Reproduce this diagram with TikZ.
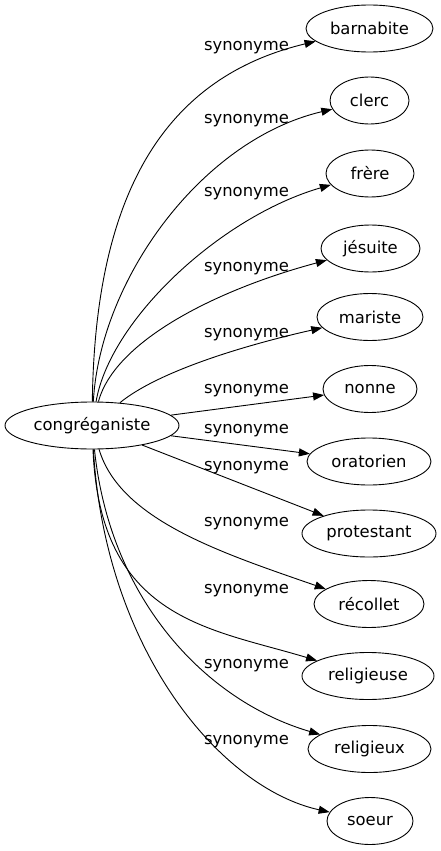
\documentclass[tikz,border=0pt]{standalone}
\usepackage{fontspec}
\setmainfont{DejaVu Sans}
\usetikzlibrary{shapes.geometric, arrows.meta}

\begin{document}
\begin{tikzpicture}[
    x=1pt, y=-1pt,
    word/.style={draw, ellipse, line width=0.9pt, minimum height=47pt,
        inner sep=0pt, text=black, font=\fontsize{16.4}{19}\selectfont},
    rel/.style={inner sep=0pt, text=black,
        font=\fontsize{16.4}{19}\selectfont},
    link/.style={line width=0.9pt, -{Triangle[length=11pt, width=8pt]}}
]
    \useasboundingbox (0,0) rectangle (441,851);

    % source
    \node[word, minimum width=174pt] (cong) at (92,425.5) {congréganiste};

    % targets
    \node[word, minimum width=127pt] (barn) at (369.5,28.5) {barnabite};
    \node[word, minimum width=79pt] (clerc) at (369.5,100.5) {clerc};
    \node[word, minimum width=88pt] (frere) at (370,173.5) {frère};
    \node[word, minimum width=99pt] (jesu) at (370.5,248.5) {jésuite};
    \node[word, minimum width=106pt] (mari) at (370,317) {mariste};
    \node[word, minimum width=94pt] (nonne) at (370,389) {nonne};
    \node[word, minimum width=124pt] (orat) at (369,461.5) {oratorien};
    \node[word, minimum width=134pt] (prot) at (369,533.5) {protestant};
    \node[word, minimum width=110pt] (reco) at (369,604) {récollet};
    \node[word, minimum width=132pt] (relse) at (368,676) {religieuse};
    \node[word, minimum width=123pt] (relx) at (369.5,749) {religieux};
    \node[word, minimum width=86pt] (soeur) at (370,821) {soeur};

    % labels
    \node[rel] (l1) at (246.5,47.5) {synonyme};
    \node[rel] (l2) at (246.5,120.5) {synonyme};
    \node[rel] (l3) at (246.5,194) {synonyme};
    \node[rel] (l4) at (246.5,269) {synonyme};
    \node[rel] (l5) at (246.5,335) {synonyme};
    \node[rel] (l6) at (246.5,391) {synonyme};
    \node[rel] (l7) at (246.5,431) {synonyme};
    \node[rel] (l8) at (246.5,468) {synonyme};
    \node[rel] (l9) at (246.5,524) {synonyme};
    \node[rel] (l10) at (246.5,591) {synonyme};
    \node[rel] (l11) at (246.5,666) {synonyme};
    \node[rel] (l12) at (246.5,742) {synonyme};

    % edges
    \draw[link] (cong) .. controls (95,200) and (160,78.5) .. (barn);
    \draw[link] (cong) .. controls (100,280) and (201,140) .. (clerc);
    \draw[link] (cong) .. controls (110,320) and (220,217) .. (frere);
    \draw[link] (cong) .. controls (115,340) and (219,289) .. (jesu);
    \draw[link] (cong) .. controls (160,370) and (250,344) .. (mari);
    \draw[link] (cong) -- (nonne);
    \draw[link] (cong) -- (orat);
    \draw[link] (cong) -- (prot);
    \draw[link] (cong) .. controls (120,520) and (222,553) .. (reco);
    \draw[link] (cong) .. controls (100,620) and (209,628) .. (relse);
    \draw[link] (cong) .. controls (110,600) and (206,701) .. (relx);
    \draw[link] (cong) .. controls (105,650) and (220,788) .. (soeur);
\end{tikzpicture}
\end{document}
